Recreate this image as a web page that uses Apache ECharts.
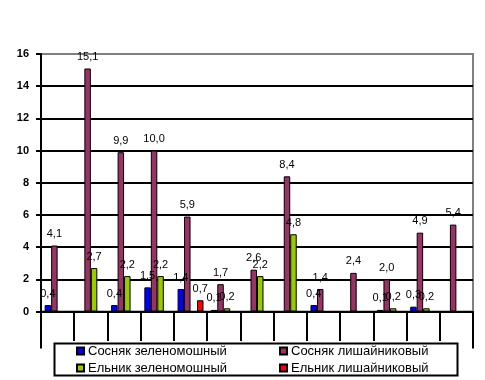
<!DOCTYPE html>
<html><head><meta charset="utf-8">
<script src="https://cdn.jsdelivr.net/npm/echarts@6/dist/echarts.min.js"></script>
<style>html,body{margin:0;padding:0;background:#fff}#c{width:485px;height:380px}</style>
</head><body><div id="c"></div>
<script>
const categories = ['1','2','3','4','5','6','7','8','9','10','11','12','13'];
const yTicks = [0, 2, 4, 6, 8, 10, 12, 14, 16];
const seriesNames = ['Сосняк зеленомошный', 'Сосняк лишайниковый', 'Ельник зеленомошный', 'Ельник лишайниковый'];
const sosnyakZelenomoshny = [0.4, null, 0.4, 1.5, 1.4, 0.1, null, null, 0.4, null, 0.1, 0.3, null];
const sosnyakLishainikovy = [4.1, 15.1, 9.9, 10.0, 5.9, 1.7, 2.6, 8.4, 1.4, 2.4, 2.0, 4.9, 5.4];
const elnikZelenomoshny = [null, 2.7, 2.2, 2.2, null, 0.2, 2.2, 4.8, null, null, 0.2, 0.2, null];
const elnikLishainikovy = [null, null, null, null, 0.7, null, null, null, null, null, null, null, null];
const colors = ['#0000FF', '#993366', '#99CC00', '#FF0000'];
const seriesData = [sosnyakZelenomoshny, sosnyakLishainikovy, elnikZelenomoshny, elnikLishainikovy];

const chart = echarts.init(document.getElementById('c'));
const fontFam = '"Liberation Sans", Arial, sans-serif';
chart.setOption({
  animation: false,
  backgroundColor: '#fff',
  grid: { left: 41, right: 12, top: 54, bottom: 68.5, show: true, borderColor: '#808080', borderWidth: 2, backgroundColor: 'transparent' },
  xAxis: {
    type: 'category', data: categories,
    axisLine: { lineStyle: { color: '#000', width: 2 } },
    axisTick: { show: true, length: 37, lineStyle: { color: '#000', width: 2 } },
    axisLabel: { show: false }
  },
  yAxis: {
    type: 'value', min: yTicks[0], max: yTicks[yTicks.length - 1], interval: 2,
    axisLine: { show: true, lineStyle: { color: '#000', width: 2 } },
    axisTick: { show: true, length: 5, lineStyle: { color: '#000', width: 2 } },
    axisLabel: { margin: 12, fontSize: 11, fontWeight: 'bold', color: '#000', fontFamily: '"Liberation Sans Narrow", "Liberation Sans", Arial' },
    splitLine: { show: true, showMinLine: false, showMaxLine: false, lineStyle: { color: '#000', width: 2 } }
  },
  legend: [
    { data: [seriesNames[0], seriesNames[2]], orient: 'vertical', left: 76, top: 344, padding: 0, itemGap: 3,
      icon: 'rect', itemWidth: 7, itemHeight: 7, z: 4,
      textStyle: { fontSize: 13, color: '#000', fontFamily: fontFam, lineHeight: 14, padding: [0,0,0,-1] } },
    { data: [seriesNames[1], seriesNames[3]], orient: 'vertical', left: 279, top: 344, padding: 0, itemGap: 3,
      icon: 'rect', itemWidth: 7, itemHeight: 7, z: 4,
      textStyle: { fontSize: 13, color: '#000', fontFamily: fontFam, lineHeight: 14, padding: [0,0,0,-1] } }
  ],
  graphic: [
    { type: 'rect', left: 52, top: 341, z: 3, shape: { width: 403, height: 32 }, style: { fill: '#fff', stroke: null } },
    { type: 'rect', left: 52, top: 374, z: 10, shape: { width: 410, height: 6 }, style: { fill: '#fff' } },
    { type: 'rect', left: 52, top: 341, z: 11, shape: { width: 403, height: 32 }, style: { fill: null, stroke: '#000', lineWidth: 2 } }
  ],
  series: seriesData.map((d, i) => ({
    name: seriesNames[i], type: 'bar', data: d,
    barGap: '0%', barCategoryGap: '22%',
    itemStyle: { color: colors[i], borderColor: '#000', borderWidth: 1 },
    label: { show: true, position: 'top', distance: 6, fontSize: 11, color: '#000', fontFamily: fontFam,
      formatter: p => p.value == null ? '' : Number(p.value).toFixed(1).replace('.', ',') }
  }))
});
</script></body></html>
